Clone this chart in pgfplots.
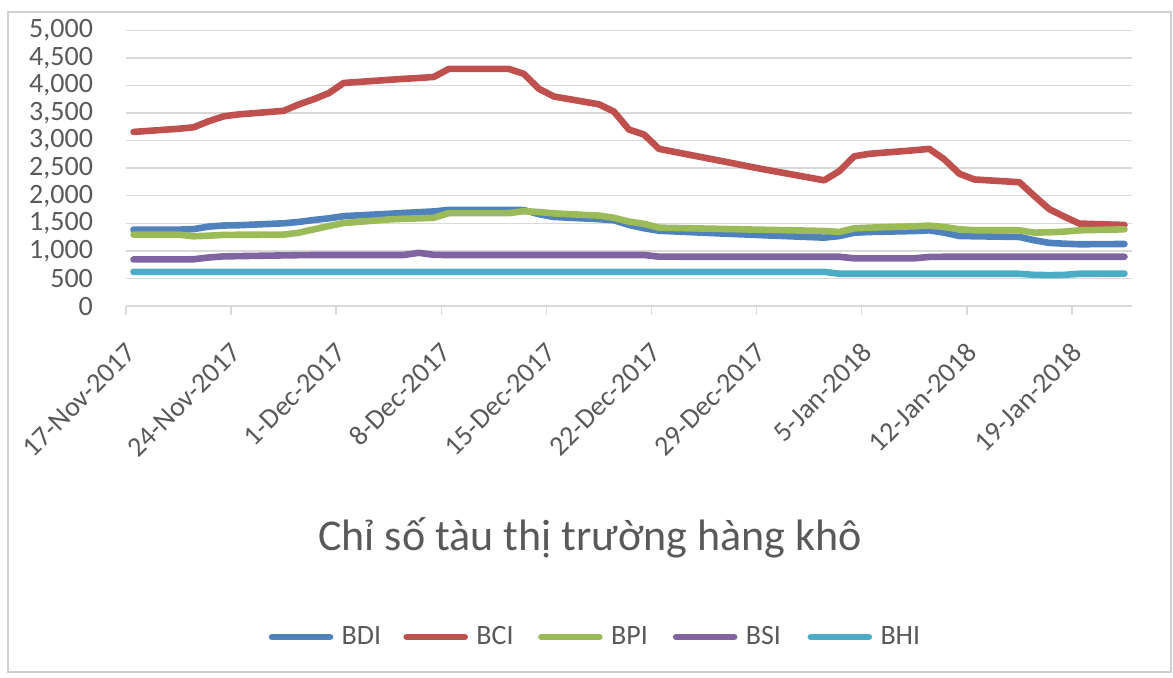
\documentclass[border=0pt]{standalone}
\usepackage{fontspec}
\setmainfont{Carlito}
\usepackage{pgfplots}
\pgfplotsset{compat=1.18}
\usepackage{pgfplotstable}
\definecolor{cBDI}{HTML}{4F81BD}
\definecolor{cBCI}{HTML}{C0504D}
\definecolor{cBPI}{HTML}{9BBB59}
\definecolor{cBSI}{HTML}{8064A2}
\definecolor{cBHI}{HTML}{4BACC6}
\definecolor{txt}{HTML}{595959}
\definecolor{grd}{HTML}{D9D9D9}
\definecolor{frm}{HTML}{D0D0D0}

% x = days after 17-Nov-2017 + 0.5
\pgfplotstableread{
x    BDI  BCI  BPI  BSI  BHI
0.5  1385 3157 1295 845 620
3.5  1385 3215 1295 845 620
4.5  1395 3241 1265 848 620
5.5  1440 3350 1275 880 620
6.5  1460 3440 1290 900 620
7.5  1465 3475 1292 905 620
10.5 1500 3540 1295 918 620
11.5 1525 3655 1330 922 620
12.5 1560 3750 1390 925 620
13.5 1590 3860 1450 925 620
14.5 1630 4045 1505 925 620
17.5 1672 4102 1570 925 620
18.5 1688 4120 1582 925 620
19.5 1702 4135 1590 965 620
20.5 1715 4155 1600 928 620
21.5 1743 4300 1685 925 620
24.5 1743 4300 1685 925 620
25.5 1743 4300 1685 925 620
26.5 1740 4210 1720 925 620
27.5 1665 3940 1705 925 620
28.5 1615 3800 1680 925 620
31.5 1575 3658 1640 925 620
32.5 1555 3525 1600 925 620
33.5 1470 3200 1530 925 620
34.5 1410 3110 1490 925 620
35.5 1365 2850 1421 895 620
40.5 1305 2585 1394 893 620
41.5 1295 2530 1388 893 620
42.5 1283 2478 1383 893 620
46.5 1240 2280 1361 893 620
47.5 1268 2445 1343 893 585
48.5 1330 2715 1409 865 585
49.5 1342 2760 1421 865 585
52.5 1360 2825 1446 865 585
53.5 1372 2850 1458 890 585
54.5 1330 2660 1433 893 585
55.5 1270 2400 1391 893 585
56.5 1265 2295 1375 893 585
59.5 1252 2245 1373 893 585
60.5 1192 1995 1331 893 565
61.5 1145 1755 1337 893 560
62.5 1130 1620 1349 893 565
63.5 1120 1495 1373 893 585
66.5 1125 1470 1391 893 588
}\data

\begin{document}
\begin{tikzpicture}
\draw[frm, line width=0.8pt] (4pt,-5.85pt) rectangle (585.5pt,-336pt);
\begin{axis}[
  at={(63pt,-153pt)}, anchor=south west,
  scale only axis, width=503pt, height=137.85pt,
  xmin=0, xmax=67, ymin=0, ymax=5000,
  axis x line*=bottom, axis y line*=left,
  x axis line style={grd, line width=0.75pt, -},
  y axis line style={draw=none},
  ytick={0,500,...,5000},
  ymajorgrids, grid style={grd, line width=0.75pt},
  ytick style={draw=none},
  xtick={0,7,14,21,28,35,42,49,56,63},
  xticklabels={17-Nov-2017,24-Nov-2017,1-Dec-2017,8-Dec-2017,15-Dec-2017,22-Dec-2017,29-Dec-2017,5-Jan-2018,12-Jan-2018,19-Jan-2018},
  xtick style={grd, line width=0.75pt},
  tick align=outside, major tick length=4.5pt,
  scaled y ticks=false,
  /pgf/number format/.cd, 1000 sep={,}, assume math mode=true,
  /pgfplots/.cd,
  tick label style={color=txt, font=\fontsize{14pt}{16pt}\selectfont},
  yticklabel style={xshift=-8.5pt},
  xticklabel style={xshift=5pt, yshift=-14pt, rotate=45, anchor=east},
  legend columns=5,
  legend style={at={(axis description cs:0.1355,-1.2006)}, anchor=west, draw=none, fill=none,
     font=\fontsize{14pt}{16pt}\selectfont, text=txt, nodes={inner sep=0pt},
     /tikz/every odd column/.style={column sep=4.2pt},
     /tikz/every even column/.style={column sep=5.85pt}},
  legend image code/.code={\draw[#1, line width=3.3pt, line cap=round] (0pt,0pt) -- (29pt,0pt);},
  every axis plot/.append style={line width=3.3pt, line join=round, line cap=round},
]
\addplot[cBDI] table[x=x, y=BDI] {\data};
\addlegendentry{\makebox[25pt][l]{BDI}}
\addplot[cBCI] table[x=x, y=BCI] {\data};
\addlegendentry{\makebox[25pt][l]{BCI}}
\addplot[cBPI] table[x=x, y=BPI] {\data};
\addlegendentry{\makebox[25pt][l]{BPI}}
\addplot[cBSI] table[x=x, y=BSI] {\data};
\addlegendentry{\makebox[25pt][l]{BSI}}
\addplot[cBHI] table[x=x, y=BHI] {\data};
\addlegendentry{\makebox[25pt][l]{BHI}}
\end{axis}
\node[txt, font=\fontsize{22pt}{26pt}\selectfont] at (295pt,-269pt) {Chỉ số tàu thị trường hàng khô};
\pgfresetboundingbox
\path[use as bounding box] (0pt,0pt) rectangle (586.5pt,-338.5pt);
\end{tikzpicture}
\end{document}
